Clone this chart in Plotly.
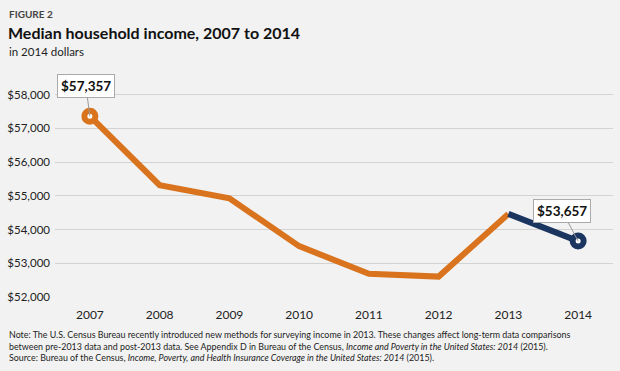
import plotly.graph_objects as go

years = ["2007", "2008", "2009", "2010", "2011", "2012", "2013", "2014"]
income_old = [57357, 55313, 54925, 53507, 52690, 52605, 54462]
years_old = years[:7]
income_new = [54462, 53657]
years_new = years[6:]
y_ticks = [52000, 53000, 54000, 55000, 56000, 57000, 58000]
y_tick_labels = ["$52,000", "$53,000", "$54,000", "$55,000", "$56,000", "$57,000", "$58,000"]

ORANGE = "#d9731d"
NAVY = "#1b3561"
FONT = "Lato"

fig = go.Figure()
fig.add_trace(go.Scatter(x=years_old, y=income_old, mode="lines",
                         line=dict(color=ORANGE, width=6), hoverinfo="skip"))
fig.add_trace(go.Scatter(x=years_new, y=income_new, mode="lines",
                         line=dict(color=NAVY, width=6), hoverinfo="skip"))
fig.add_trace(go.Scatter(x=[years_old[0]], y=[income_old[0]], mode="markers",
                         marker=dict(size=11, color="white", line=dict(color=ORANGE, width=6))))
fig.add_trace(go.Scatter(x=[years_new[-1]], y=[income_new[-1]], mode="markers",
                         marker=dict(size=11, color="white", line=dict(color=NAVY, width=6))))

for idx, yv, ax, ay in [(0, income_old[0], -4, -30), (len(years) - 1, income_new[-1], -16, -30)]:
    fig.add_annotation(x=idx, y=yv, text="<b>$%s</b>" % format(yv, ","),
                       showarrow=True, arrowhead=0, arrowwidth=1, arrowcolor="#999999",
                       ax=ax, ay=ay, bgcolor="white", bordercolor="#aaaaaa", borderwidth=1,
                       borderpad=3, font=dict(family=FONT, size=13.5, color="#111111"),
                       standoff=0)

PW, PH, L, T = 560, 216, 53, 81
def px(x):
    return (x - L) / PW
def py(y):
    return 1 - (y - T) / PH

fig.add_annotation(xref="paper", yref="paper", x=px(5), y=py(14), xanchor="left", yanchor="middle",
                   text="<b>FIGURE 2</b>", showarrow=False, font=dict(family=FONT, size=10, color="#444444"))
fig.add_annotation(xref="paper", yref="paper", x=px(4), y=py(32), xanchor="left", yanchor="middle",
                   text="<b>Median household income, 2007 to 2014</b>", showarrow=False,
                   font=dict(family=FONT, size=16, color="#111111"))
fig.add_annotation(xref="paper", yref="paper", x=px(5), y=py(51), xanchor="left", yanchor="middle",
                   text="in 2014 dollars", showarrow=False, font=dict(family=FONT, size=11.5, color="#222222"))

note_lines = [
    "Note: The U.S. Census Bureau recently introduced new methods for surveying income in 2013. These changes affect long-term data comparisons",
    "between pre-2013 data and post-2013 data. See Appendix D in Bureau of the Census, <i>Income and Poverty in the United States: 2014</i> (2015).",
    "Source: Bureau of the Census, <i>Income, Poverty, and Health Insurance Coverage in the United States: 2014</i> (2015).",
]
fig.add_annotation(xref="paper", yref="paper", x=px(5), y=py(346), xanchor="left", yanchor="middle",
                   text="<br>".join(note_lines), showarrow=False, align="left",
                   font=dict(family=FONT, size=8.9, color="#222222"))

fig.update_layout(
    width=620, height=371,
    margin=dict(l=L, r=620 - L - PW, t=T, b=371 - T - PH),
    paper_bgcolor="#f2f2f2", plot_bgcolor="#f2f2f2",
    showlegend=False,
    font=dict(family=FONT, size=12, color="#222222"),
    xaxis=dict(type="category", range=[-0.5, 7.5], showgrid=False, zeroline=False,
               showline=False, ticks="", ticklabelstandoff=9,
               tickfont=dict(family=FONT, size=12, color="#222222")),
    yaxis=dict(range=[52000, 58400], tickvals=y_ticks, ticktext=y_tick_labels,
               showgrid=True, gridcolor="#d3d3d3", gridwidth=1, zeroline=False,
               showline=False, ticks="", ticklabelstandoff=4,
               tickfont=dict(family=FONT, size=11.5, color="#222222")),
)

fig.write_html("out.html", config={"displayModeBar": False},
               post_script="document.body.style.margin='0';")
